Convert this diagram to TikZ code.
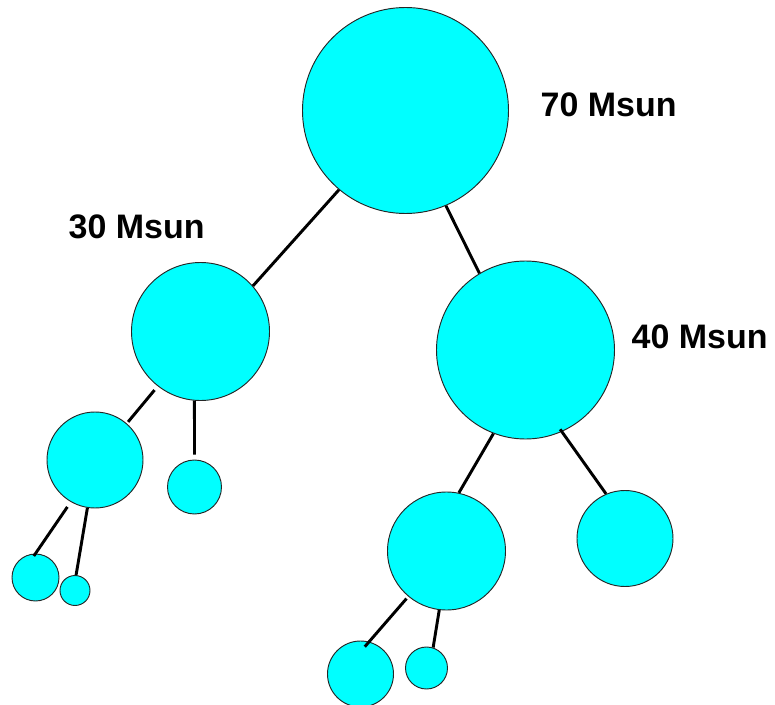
\documentclass[tikz,border=0pt]{standalone}
\usepackage{fontspec}
\setmainfont{Liberation Sans}
\begin{document}
\begin{tikzpicture}[x=0.03cm, y=-0.03cm,
  halo/.style={circle, draw=black!85, line width=0.8pt, fill={rgb,255:red,0;green,255;blue,255}, inner sep=0pt, minimum size=#1*0.06cm},
  link/.style={line width=2.5pt, line cap=butt},
  mass/.style={anchor=base west, inner sep=0pt, font=\fontsize{29}{29}\selectfont\bfseries}]
\useasboundingbox (0,0) rectangle (775,705);

% merger tree: one halo per node, radius given in units
\node[halo=103] (top) at (405.5,110.5) {};
\node[halo=69]  (left) at (200.5,331.5) {};
\node[halo=89]  (right) at (525.5,350) {};
\node[halo=48]  (ll) at (95,460) {};
\node[halo=27]  (lr) at (194.5,487) {};
\node[halo=23.5] (lll) at (35.5,577.5) {};
\node[halo=15]  (llr) at (75,590.5) {};
\node[halo=59]  (rl) at (446.5,551) {};
\node[halo=48]  (rr) at (625,538.5) {};
\node[halo=33]  (rll) at (360.5,674) {};
\node[halo=21]  (rlr) at (426.5,668) {};

% branches
\draw[link] (top.230) -- (left.41);
\draw[link] (top.293) -- (right.121);
\draw[link, shorten <=1.5mm, shorten >=0.6mm] (left.232) -- (ll.49);
\draw[link, shorten >=1.5mm] (left.265) -- (lr.90);
\draw[link, shorten <=1.8mm, shorten >=-0.9mm] (ll.240) -- (lll.90);
\draw[link] (ll.261) -- (llr.86);
\draw[link] (right.249) -- (rl.78);
\draw[link, shorten <=-0.9mm] (right.294) -- (rr.113);
\draw[link, shorten <=0.8mm, shorten >=-2mm] (rl.230) -- (rll.75);
\draw[link] (rl.263) -- (rlr.72);

% mass labels
\node[mass] (m70) at (540.5,117) {70 Msun};
\node[mass] (m30) at (68.5,238) {30 Msun};
\node[mass] (m40) at (631.5,348) {40 Msun};
\end{tikzpicture}
\end{document}
